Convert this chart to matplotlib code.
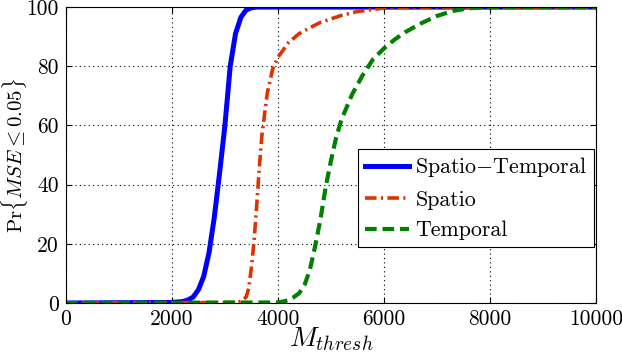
import matplotlib
matplotlib.use("Agg")
import matplotlib.pyplot as plt

plt.rcParams['font.family'] = ['cmr10', 'DejaVu Serif']
plt.rcParams['mathtext.fontset'] = 'cm'
plt.rcParams['axes.formatter.use_mathtext'] = True

# Spatio-Temporal
st_x = [0, 2000, 2200, 2300, 2400, 2500, 2600, 2700, 2800, 2900, 3000, 3100,
        3200, 3300, 3400, 3500, 3600, 10000]
st_y = [0, 0.2, 0.5, 1.0, 2.0, 4.5, 9, 17, 29, 44, 60, 80,
        91, 96.5, 99, 99.8, 100, 100]

# Spatio
sp_x = [0, 3200, 3300, 3400, 3450, 3500, 3550, 3600, 3650, 3700, 3800, 3900,
        4000, 4200, 4400, 4600, 4800, 5000, 5200, 5500, 6000, 6500, 10000]
sp_y = [0, 0.2, 0.5, 2, 5, 12, 21, 33, 46, 57, 71, 79,
        83, 88, 91, 93, 94.8, 96, 97.2, 98.5, 99.7, 100, 100]

# Temporal
tp_x = [0, 4000, 4100, 4200, 4300, 4400, 4500, 4600, 4700, 4800, 4900, 5000,
        5100, 5200, 5400, 5600, 5800, 6000, 6200, 6400, 6700, 7000, 7300,
        7600, 8000, 10000]
tp_y = [0, 0.2, 0.5, 1, 2, 3.3, 6, 11, 19, 28, 39, 48,
        56, 62, 70.5, 77, 82.5, 86, 89, 91.5, 94.5, 97, 98.7,
        99.6, 100, 100]

labels = [r'Spatio$-$Temporal', 'Spatio', 'Temporal']
xticks = [0, 2000, 4000, 6000, 8000, 10000]
yticks = [0, 20, 40, 60, 80, 100]

fig = plt.figure(figsize=(6.22, 3.54), dpi=100)
ax = fig.add_axes([0.106, 0.144, 0.852, 0.836])

ax.plot(st_x, st_y, color='#0000ff', lw=3.6, label=labels[0])
ax.plot(sp_x, sp_y, color='#dd3300', lw=2.6, dashes=(3.2, 1.2, 0.6, 1.2), label=labels[1])
ax.plot(tp_x, tp_y, color='#008000', lw=3.0, dashes=(2.8, 1.4), label=labels[2])

ax.set_xlim(0, 10000)
ax.set_ylim(0, 100)
ax.set_xticks(xticks)
ax.set_yticks(yticks)
ax.set_xticklabels([str(t) for t in xticks])
ax.set_yticklabels([str(t) for t in yticks])
ax.tick_params(labelsize=15.5, direction='in', length=4, width=0.8,
               top=True, right=True, pad=5)
ax.grid(True, color='black', linestyle=(0, (1, 3)), linewidth=0.8)
for s in ax.spines.values():
    s.set_linewidth(0.8)

ax.set_xlabel(r'$M_{thresh}$', fontsize=20, labelpad=-3)
ax.set_ylabel(r'$\mathrm{Pr}\{MSE \leq 0.05\}$', fontsize=15)
ax.yaxis.set_label_coords(-0.068, 0.5)

leg = ax.legend(loc='lower right', bbox_to_anchor=(0.9965, 0.19), fontsize=15.8,
                fancybox=False, framealpha=1, edgecolor='black',
                handlelength=2.0, handletextpad=0.3, borderpad=0.3,
                labelspacing=0.5, borderaxespad=0)
leg.get_frame().set_linewidth(0.8)

fig.savefig('out.png', dpi=100)
